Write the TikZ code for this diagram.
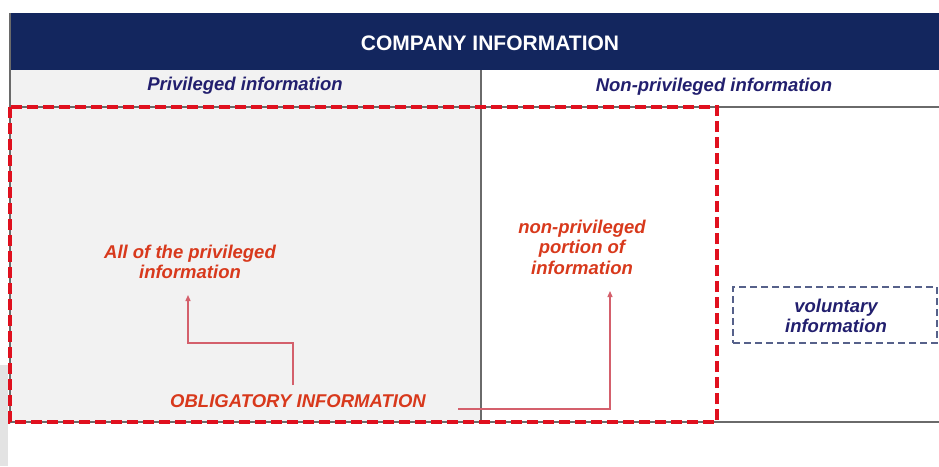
\documentclass[tikz,border=0pt]{standalone}
\usepackage{fontspec}
\setmainfont{Liberation Sans}
\usetikzlibrary{arrows.meta}
\definecolor{navy}{HTML}{13265E}
\definecolor{navytxt}{HTML}{221F6E}
\definecolor{redtxt}{HTML}{D8391C}
\definecolor{reddash}{HTML}{E0101E}
\definecolor{panel}{HTML}{F2F2F2}
\definecolor{bordergray}{HTML}{6A6A6A}
\definecolor{connred}{HTML}{D4606C}
\definecolor{volgray}{HTML}{56618A}
\tikzset{
  lbl/.style={font=\fontsize{18.5}{20.5}\selectfont\bfseries\itshape, align=center, inner sep=0pt},
  redlbl/.style={lbl, text=redtxt},
  navylbl/.style={lbl, text=navytxt},
  border/.style={draw=bordergray, line width=2.5pt},
  obl/.style={draw=reddash, line width=3.5pt, dash pattern=on 11pt off 5pt},
  conn/.style={draw=connred, line width=1.3pt, -{Triangle[length=6pt,width=5pt]}},
  volbox/.style={draw=volgray, line width=1.6pt, dash pattern=on 7pt off 4pt, minimum width=204pt, minimum height=56pt, inner sep=0pt}
}
\begin{document}
\begin{tikzpicture}[x=1pt,y=-1pt]
\useasboundingbox (0,0) rectangle (939,466);
% side strip
\fill[gray!22] (0,365) rectangle (8,466);
% privileged panel
\fill[panel] (10,70) rectangle (481,422);
% header
\fill[navy] (10,13) rectangle (939,70);
\node[font=\fontsize{21}{24}\selectfont\bfseries, text=white] (head) at (490,43) {COMPANY INFORMATION};
% column titles
\node[navylbl] (priv) at (245,86) {Privileged information};
\node[navylbl] (nonpriv) at (714,87) {Non-privileged information};
% gray structure lines
\draw[border] (10,13) -- (10,422);
\draw[border] (481,70) -- (481,422);
\draw[border] (10,107) -- (939,107);
\draw[border] (10,422) -- (939,422);
% obligatory dashed region
\draw[obl] (10,107) rectangle (717,422);
% labels
\node[redlbl] (allpriv) at (190,262) {All of the privileged\\information};
\node[redlbl] (npportion) at (582,247) {non-privileged\\portion of\\information};
\node[redlbl] (oblig) at (298,401) {OBLIGATORY INFORMATION};
\node[volbox] (vol) at (835,315) {};
\node[navylbl] (voltxt) at (836,316) {voluntary\\information};
% connectors
\coordinate (s1) at (293,385);
\coordinate (t1) at (188,295);
\coordinate (s2) at (458,409);
\coordinate (t2) at (610,291);
\draw[conn] (s1) -- (293,343) -| (t1);
\draw[conn] (s2) -| (t2);
\end{tikzpicture}
\end{document}
